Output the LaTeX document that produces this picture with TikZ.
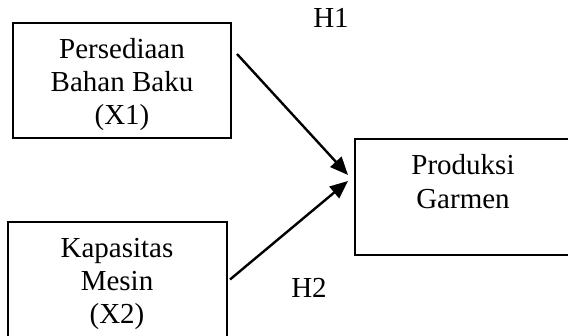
\documentclass[tikz,border=0pt]{standalone}
\usepackage{fontspec}
\setmainfont{Liberation Serif}
\usetikzlibrary{arrows.meta}
\begin{document}
\begin{tikzpicture}[x=1pt,y=-1pt,
  box/.style={draw=black,line width=2pt,rectangle,inner sep=0pt,minimum width=#1},
  txt/.style={anchor=base,inner sep=0pt,font=\fontsize{29}{33}\selectfont},
  arr/.style={line width=2.4pt,-{Triangle[length=18pt,width=15pt]}}]
\useasboundingbox (0,0) rectangle (568,336);
\clip (0,0) rectangle (568,336);
% boxes
\node[box=218pt,minimum height=115pt] (b1) at (122,80.5) {};
\node[box=219pt,minimum height=115pt] (b2) at (117.5,279.5) {};
\node[box=216pt,minimum height=116pt] (b3) at (463,197) {};
% texts
\node[txt] (t1a) at (122,59) {Persediaan};
\node[txt] (t1b) at (122,92) {Bahan Baku};
\node[txt] (t1c) at (122,125) {(X1)};
\node[txt] (t2a) at (117,258) {Kapasitas};
\node[txt] (t2b) at (117,291) {Mesin};
\node[txt] (t2c) at (117,324) {(X2)};
\node[txt] (t3a) at (463,175) {Produksi};
\node[txt] (t3b) at (463,209) {Garmen};
\node[txt] (h1) at (331,28) {H1};
\node[txt] (h2) at (309,298) {H2};
% connectors
\coordinate (s1) at ([xshift=5pt,yshift=-32pt]b1.north east);
\coordinate (e1) at ([xshift=-6pt,yshift=22pt]b3.west);
\coordinate (s2) at ([xshift=2pt]b2.east);
\coordinate (e2) at ([xshift=-6pt,yshift=16pt]b3.west);
\draw[arr] (s1) -- (e1);
\draw[arr] (s2) -- (e2);
\end{tikzpicture}
\end{document}
